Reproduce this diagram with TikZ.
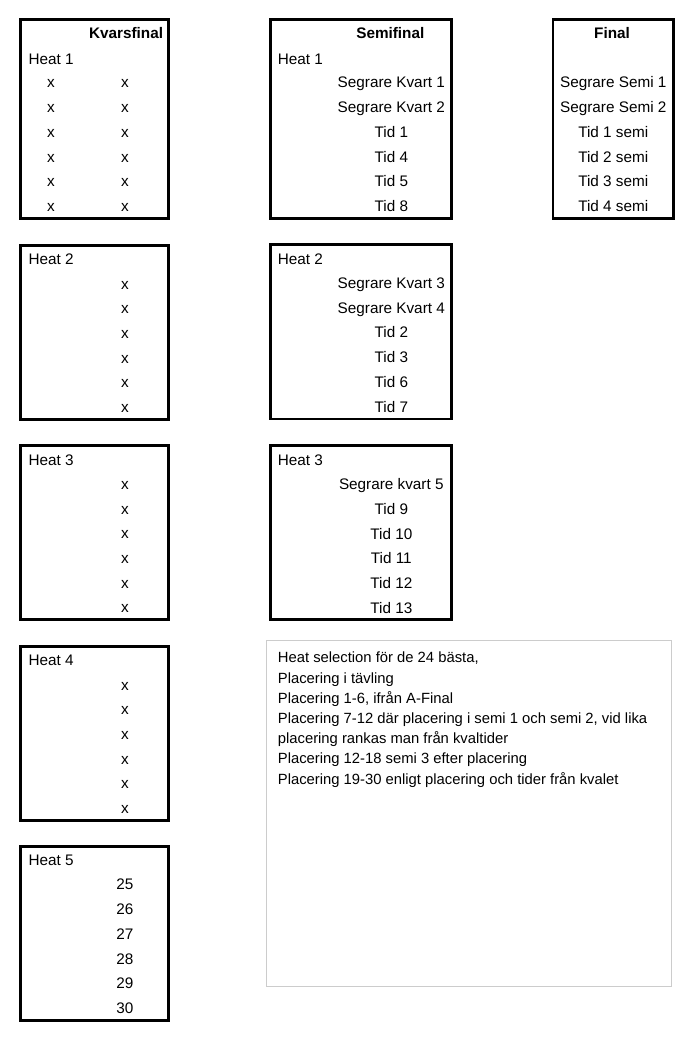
\documentclass[tikz,border=0pt]{standalone}
\usepackage{fontspec}
\setmainfont{Liberation Sans}
\begin{document}
\begin{tikzpicture}[
    x=1pt, y=-1pt,
    box/.style={draw, line width=2.6pt, inner sep=0pt},
    kvbox/.style={box, minimum width=147.6pt, minimum height=174.2pt},
    sfbox/.style={box, minimum width=181pt, minimum height=174.2pt},
    notebox/.style={draw=black!20, line width=1pt, inner sep=0pt},
    lbl/.style={font=\fontsize{15.3}{18}\selectfont, text height=11pt, text depth=0pt, inner sep=0pt},
    head/.style={lbl, font=\fontsize{15.3}{18}\selectfont\bfseries},
    notetxt/.style={font=\fontsize{14.8}{20.2}\selectfont, align=left, inner sep=0pt, anchor=north west}
]
\useasboundingbox (0,0) rectangle (700,1043);

% ---- kvarsfinal ----
\node[box, minimum width=147.6pt, minimum height=199pt] (kv1) at (94.5,119.2) {};
\node[head, anchor=east] (kvt) at (163.3,33.3) {Kvarsfinal};
\node[lbl, anchor=west] (kvh1) at (28.3,59.3) {Heat 1};
\foreach \i in {0,...,5} {
  \node[lbl] (kv1a\i) at (51,82.5+24.7*\i) {x};
  \node[lbl] (kv1b\i) at (125,82.5+24.7*\i) {x};
}

\foreach \n/\ty in {2/245.2, 3/445.5, 4/646.2} {
  \node[kvbox] (kv\n) at (94.5,\ty+87.1) {};
  \node[lbl, anchor=west] (kvh\n) at (28.3,\ty+14.1) {Heat \n};
  \foreach \i in {0,...,5}
    \node[lbl] (kv\n x\i) at (125,\ty+38.4+24.7*\i) {x};
}

\node[kvbox] (kv5) at (94.5,933.3) {};
\node[lbl, anchor=west] (kvh5) at (28.3,860.3) {Heat 5};
\foreach \v [count=\i from 0] in {25,...,30}
  \node[lbl] (kv5x\i) at (125,884.4+24.7*\i) {\v};

% ---- semifinal ----
\node[box, minimum width=181pt, minimum height=199pt] (sf1) at (360.8,119.2) {};
\node[head] (sft) at (390.3,33.3) {Semifinal};
\node[lbl, anchor=west] (sfh1) at (277.7,59.3) {Heat 1};
\foreach \s [count=\i from 0] in {Segrare Kvart 1, Segrare Kvart 2, Tid 1, Tid 4, Tid 5, Tid 8}
  \node[lbl] (sf1x\i) at (391.3,82.5+24.7*\i) {\s};

\node[sfbox] (sf2) at (360.8,331.8) {};
\node[lbl, anchor=west] (sfh2) at (277.7,258.8) {Heat 2};
\foreach \s [count=\i from 0] in {Segrare Kvart 3, Segrare Kvart 4, Tid 2, Tid 3, Tid 6, Tid 7}
  \node[lbl] (sf2x\i) at (391.3,283+24.7*\i) {\s};

\node[sfbox] (sf3) at (360.8,532.6) {};
\node[lbl, anchor=west] (sfh3) at (277.7,459.6) {Heat 3};
\foreach \s [count=\i from 0] in {Segrare kvart 5, Tid 9, Tid 10, Tid 11, Tid 12, Tid 13}
  \node[lbl] (sf3x\i) at (391.3,484.2+24.7*\i) {\s};

% ---- final ----
\node[box, minimum width=120.7pt, minimum height=199pt] (fi) at (613.3,119.2) {};
\node[head] (fit) at (612,33.3) {Final};
\foreach \s [count=\i from 0] in {Segrare Semi 1, Segrare Semi 2, Tid 1 semi, Tid 2 semi, Tid 3 semi, Tid 4 semi}
  \node[lbl] (fix\i) at (613.3,82.5+24.7*\i) {\s};

% ---- info ----
\node[notebox, minimum width=405pt, minimum height=346pt] (nb) at (469.2,813.7) {};
\node[notetxt] (nbt) at (277.7,652) {Heat selection för de 24 bästa,\\
Placering i tävling\\
Placering 1-6, ifrån A-Final\\
Placering 7-12 där placering i semi 1 och semi 2, vid lika\\
placering rankas man från kvaltider\\
Placering 12-18 semi 3 efter placering\\
Placering 19-30 enligt placering och tider från kvalet};

\end{tikzpicture}
\end{document}
